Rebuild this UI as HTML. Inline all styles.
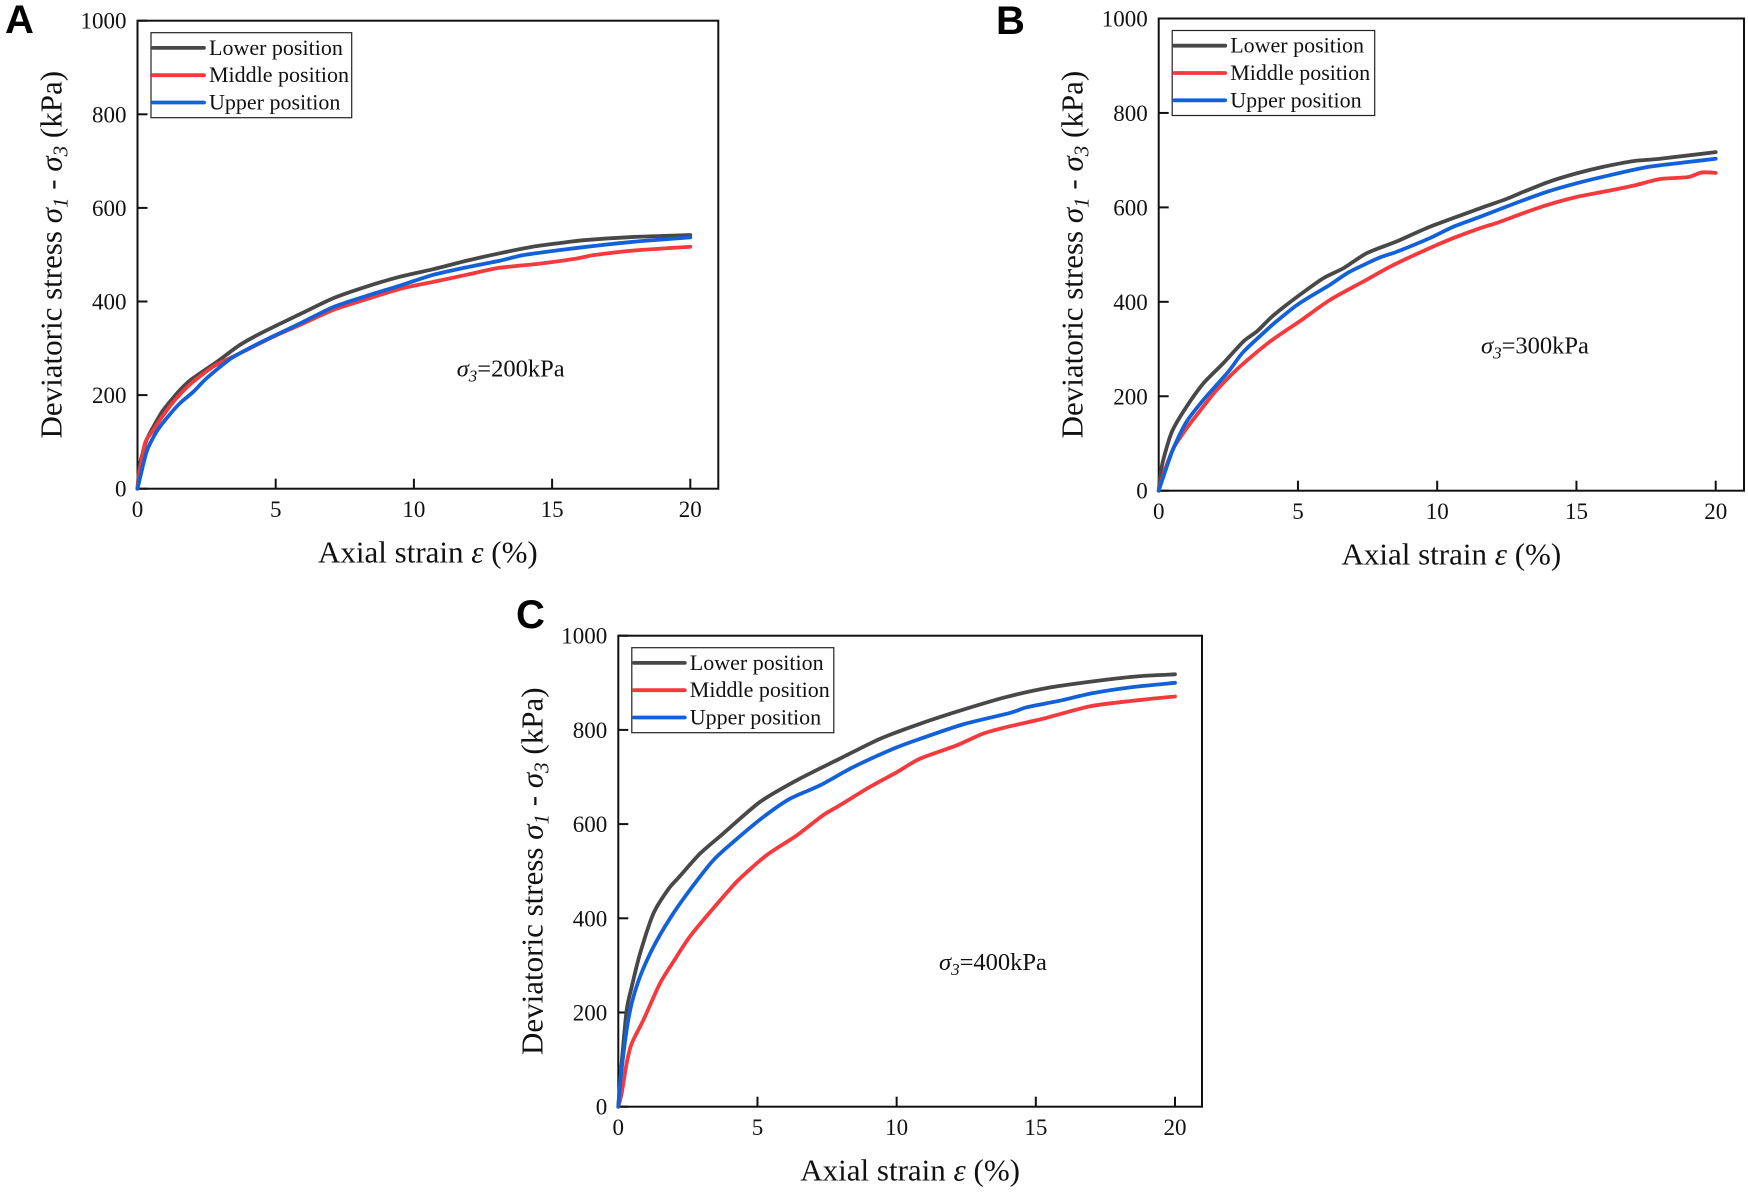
<!DOCTYPE html>
<html lang="en">
<head>
<meta charset="utf-8">
<title>Deviatoric stress vs axial strain</title>
<style>
html,body{margin:0;padding:0;background:#fff;}
svg{display:block;}
text{font-family:"Liberation Serif",serif;fill:#111;}
</style>
</head>
<body>
<svg id="figure" xmlns="http://www.w3.org/2000/svg" width="1748" height="1193" viewBox="0 0 1748 1193"></svg>
<script>
const xTickValues = [0, 5, 10, 15, 20];
const yTickValues = [0, 200, 400, 600, 800, 1000];
const seriesLabels = ['Lower position', 'Middle position', 'Upper position'];

const panelALowerStrain = [0,0.08,0.33,0.6,0.93,1.54,1.96,2.87,3.7,4.49,5.88,7.08,8.29,9.5,10.7,11.9,13.1,14.3,15.3,16.15,17.96,20];
const panelALowerStress = [0,50,104,135,168,211,234,271,307,333,373,407,432,453,469,487,503,517,525,531,538,542];
const panelAMiddleStrain = [0,0.05,0.27,0.57,0.93,1.42,1.96,2.74,3.35,4.07,4.92,5.88,7.08,8.29,9.5,10.7,11.9,13.1,14.56,15.9,16.5,17.96,20];
const panelAMiddleStress = [0,25,97,125,157,194,226,261,279,300,325,350,382,405,427,442,457,472,481,492,499,509,517];
const panelAUpperStrain = [0,0.33,0.69,1.06,1.54,2.02,2.5,3.35,4.07,4.92,5.88,7.08,8.29,9.5,10.7,11.9,13.1,13.95,15.3,16.7,18.2,20];
const panelAUpperStress = [0,79,122,151,183,207,236,277,301,326,353,388,412,434,457,473,487,499,510,520,529,537];

const panelBLowerStrain = [0,0.11,0.35,0.53,1,1.6,2.32,3.04,3.52,4,4.36,5.07,5.91,6.63,7.47,8.55,9.74,11.54,12.5,13.1,14.05,15,15.97,17.05,18,20];
const panelBLowerStress = [0,51,104,132,178,227,270,316,337,365,383,415,450,471,503,528,559,598,618,633,655,672,686,698,703,717];
const panelBMiddleStrain = [0,0.2,0.53,1,1.6,2.08,2.92,4,5.14,6.15,7.35,8.43,9.74,10.58,11.54,12.14,13.1,13.94,15,15.97,17.05,18,19,19.5,20];
const panelBMiddleStress = [0,40,90,132,178,213,263,316,362,404,443,478,514,535,556,567,588,605,622,633,646,660,664,674,673];
const panelBUpperStrain = [0,0.29,0.53,1,1.6,2.5,3.04,4,4.36,4.96,5.55,6.15,6.87,7.95,8.55,9.74,10.58,11.54,12.86,13.94,15,15.97,17.5,19,20];
const panelBUpperStress = [0,51,90,146,192,252,294,347,365,393,415,436,464,494,506,535,559,580,610,633,651,665,685,696,703];

const panelCLowerStrain = [0,0.12,0.3,0.48,0.78,1.26,1.8,2.22,2.93,3.77,5.09,6.41,7.96,9.4,10.84,12.5,13.95,15.5,17.3,18.7,20];
const panelCLowerStress = [0,92,205,254,325,410,462,490,537,580,647,693,739,781,813,845,870,890,905,914,918];
const panelCMiddleStrain = [0,0.12,0.3,0.48,0.9,1.5,1.98,2.57,3.41,4.31,5.33,6.41,7.36,7.96,9.04,10,10.84,12.15,13.1,13.95,15.27,16.94,18.5,20];
const panelCMiddleStress = [0,28,92,134,184,262,308,361,421,481,534,576,619,640,679,710,739,767,792,806,824,850,862,871];
const panelCUpperStrain = [0,0.09,0.3,0.48,0.78,1.26,1.86,2.57,3.41,4.13,5.21,6.17,7.24,8.44,9.88,10.84,12.4,14.07,14.67,15.86,17.05,18.5,20];
const panelCUpperStress = [0,64,163,219,276,339,400,460,523,562,615,654,682,721,760,781,812,836,848,862,878,891,900];

const SVG_NS = 'http://www.w3.org/2000/svg';
const fig = document.getElementById('figure');

function make(parent, tag, attrs) {
  const el = document.createElementNS(SVG_NS, tag);
  for (const k in attrs) el.setAttribute(k, attrs[k]);
  parent.appendChild(el);
  return el;
}
function span(parent, str, attrs) {
  const t = make(parent, 'tspan', attrs || {});
  t.textContent = str;
  return t;
}
function smoothPath(pts) {
  let d = 'M' + pts[0][0].toFixed(2) + ' ' + pts[0][1].toFixed(2);
  for (let i = 0; i < pts.length - 1; i++) {
    const p0 = pts[Math.max(i - 1, 0)], p1 = pts[i], p2 = pts[i + 1], p3 = pts[Math.min(i + 2, pts.length - 1)];
    const c1x = p1[0] + (p2[0] - p0[0]) / 8, c1y = p1[1] + (p2[1] - p0[1]) / 8;
    const c2x = p2[0] - (p3[0] - p1[0]) / 8, c2y = p2[1] - (p3[1] - p1[1]) / 8;
    d += 'C' + c1x.toFixed(2) + ' ' + c1y.toFixed(2) + ' ' + c2x.toFixed(2) + ' ' + c2y.toFixed(2) + ' ' + p2[0].toFixed(2) + ' ' + p2[1].toFixed(2);
  }
  return d;
}

function drawPanel(cfg) {
  const g = make(fig, 'g', {});
  
  

  const xScale = v => cfg.x0 + v * (cfg.x20 - cfg.x0) / 20;
  const yScale = v => cfg.y0 - v * (cfg.y0 - cfg.yTop) / 1000;

  const letter = make(g, 'text', {x: cfg.letterX, y: cfg.letterY, 'font-size': 40, 'font-weight': 700, style: 'font-family:"Liberation Sans",sans-serif;fill:#000'});
  letter.textContent = cfg.id.toUpperCase();
  
  

  const frame = make(g, 'rect', {x: cfg.x0, y: cfg.yTop, width: cfg.right - cfg.x0, height: cfg.y0 - cfg.yTop, fill: 'none', stroke: '#111', 'stroke-width': 2});
  
  

  xTickValues.forEach(v => {
    const tick = make(g, 'line', {x1: xScale(v), x2: xScale(v), y1: cfg.y0, y2: cfg.y0 - 10, stroke: '#111', 'stroke-width': 2});
    
    
    const label = make(g, 'text', {x: xScale(v), y: cfg.y0 + 28.5, 'font-size': 23, 'text-anchor': 'middle'});
    label.textContent = String(v);
    
    
  });
  yTickValues.forEach(v => {
    const tick = make(g, 'line', {x1: cfg.x0, x2: cfg.x0 + 10, y1: yScale(v), y2: yScale(v), stroke: '#111', 'stroke-width': 2});
    
    
    const label = make(g, 'text', {x: cfg.x0 - 11, y: yScale(v) + 8, 'font-size': 23, 'text-anchor': 'end'});
    label.textContent = String(v);
    
    
  });

  const xTitle = make(g, 'text', {x: (cfg.x0 + cfg.right) / 2, y: cfg.y0 + 74, 'font-size': 31, 'text-anchor': 'middle'});
  
  
  span(xTitle, 'Axial strain ');
  span(xTitle, 'ε', {'font-style': 'italic'});
  span(xTitle, ' (%)');

  const cy = (cfg.y0 + cfg.yTop) / 2;
  const yTitle = make(g, 'text', {x: cfg.x0 - 76, y: cy, 'font-size': 31, 'text-anchor': 'middle', transform: 'rotate(-90 ' + (cfg.x0 - 76) + ' ' + cy + ')'});
  
  
  span(yTitle, 'Deviatoric stress ');
  span(yTitle, 'σ', {'font-style': 'italic'});
  span(yTitle, '1', {'font-style': 'italic', 'font-size': 21, dy: 6});
  span(yTitle, ' - ', {dy: -6});
  span(yTitle, 'σ', {'font-style': 'italic'});
  span(yTitle, '3', {'font-style': 'italic', 'font-size': 21, dy: 6});
  span(yTitle, ' (kPa)', {dy: -6});

  cfg.series.forEach(s => {
    const pts = s.strain.map((e, i) => [xScale(e), yScale(s.stress[i])]);
    const path = make(g, 'path', {d: smoothPath(pts), fill: 'none', stroke: s.color, 'stroke-width': 3.8, 'stroke-linejoin': 'round', 'stroke-linecap': 'round'});
    
    
  });

  const legend = make(g, 'g', {});
  
  
  const lx = cfg.x0 + 13.5, ly = cfg.yTop + 12;
  const box = make(legend, 'rect', {x: lx, y: ly, width: cfg.legendW, height: 85, fill: '#fff', stroke: '#222', 'stroke-width': 1.2});
  
  
  cfg.series.forEach((s, i) => {
    const rowY = ly + 15.2 + i * 27.3;
    const key = make(legend, 'line', {x1: lx + 2, x2: lx + 53, y1: rowY, y2: rowY, stroke: s.color, 'stroke-width': 3.8, 'stroke-linecap': 'round'});
    
    
    const label = make(legend, 'text', {x: lx + 58, y: rowY + 7, 'font-size': 22});
    label.textContent = seriesLabels[i];
    
    
  });

  const note = make(g, 'text', {x: cfg.noteX, y: cfg.noteY, 'font-size': 24.5});
  
  
  span(note, 'σ', {'font-style': 'italic'});
  span(note, '3', {'font-style': 'italic', 'font-size': 17, dy: 5});
  span(note, '=' + cfg.pressure + 'kPa', {dy: -5});
}

const DARK = '#484848', RED = '#f5393c', BLUE = '#1261d9';

drawPanel({id: 'a', x0: 137.5, x20: 690.3, right: 718.3, y0: 488.7, yTop: 20.7, legendW: 200.7,
  letterX: 5, letterY: 33, noteX: 456.7, noteY: 376.7, pressure: 200,
  series: [
    {name: 'lower-position-line', color: DARK, strain: panelALowerStrain, stress: panelALowerStress},
    {name: 'middle-position-line', color: RED, strain: panelAMiddleStrain, stress: panelAMiddleStress},
    {name: 'upper-position-line', color: BLUE, strain: panelAUpperStrain, stress: panelAUpperStress}
  ]});
drawPanel({id: 'b', x0: 1158.7, x20: 1715.7, right: 1744, y0: 490.7, yTop: 18.5, legendW: 202.5,
  letterX: 996, letterY: 34, noteX: 1481, noteY: 353.3, pressure: 300,
  series: [
    {name: 'lower-position-line', color: DARK, strain: panelBLowerStrain, stress: panelBLowerStress},
    {name: 'middle-position-line', color: RED, strain: panelBMiddleStrain, stress: panelBMiddleStress},
    {name: 'upper-position-line', color: BLUE, strain: panelBUpperStrain, stress: panelBUpperStress}
  ]});
drawPanel({id: 'c', x0: 618.3, x20: 1175, right: 1202, y0: 1106.7, yTop: 635.7, legendW: 202,
  letterX: 516, letterY: 628, noteX: 939, noteY: 970, pressure: 400,
  series: [
    {name: 'lower-position-line', color: DARK, strain: panelCLowerStrain, stress: panelCLowerStress},
    {name: 'middle-position-line', color: RED, strain: panelCMiddleStrain, stress: panelCMiddleStress},
    {name: 'upper-position-line', color: BLUE, strain: panelCUpperStrain, stress: panelCUpperStress}
  ]});
</script>
</body>
</html>
